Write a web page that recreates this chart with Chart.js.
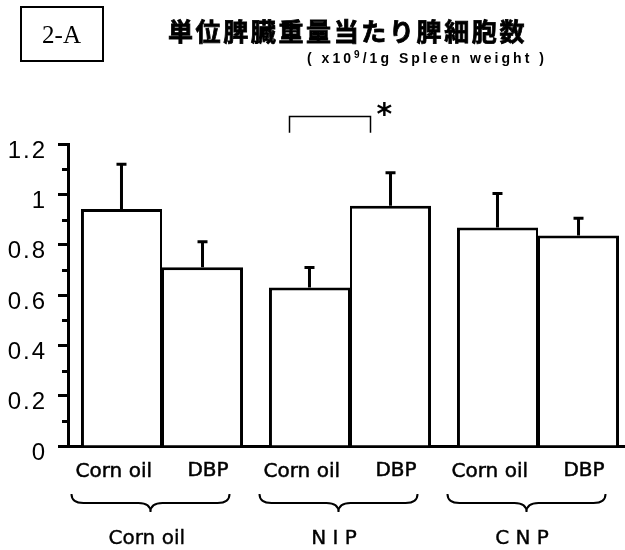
<!DOCTYPE html>
<html>
<head>
<meta charset="utf-8">
<script src="https://cdn.jsdelivr.net/npm/chart.js@4"></script>
<style>
  html, body { margin: 0; padding: 0; background: #fff; overflow: hidden; }
  #wrap { position: relative; width: 640px; height: 550px; }
</style>
</head>
<body>
<div id="wrap"><canvas id="chart" width="640" height="550"></canvas></div>
<script>
// Spleen cell count per unit spleen weight (x10^9 / 1 g spleen weight)
const groups = ['Corn oil', 'N I P', 'C N P'];
const treatments = ['Corn oil', 'DBP'];
const cornOilMeans = [0.942, 0.630, 0.868];
const cornOilSE = [0.178, 0.079, 0.135];
const dbpMeans = [0.710, 0.955, 0.836];
const dbpSE = [0.102, 0.131, 0.069];
const yTickLabels = [0, 0.2, 0.4, 0.6, 0.8, 1, 1.2];
const panelLabel = '2-A';
const titleText = '単位脾臓重量当たり脾細胞数';
const unitParts = ['( x10', '9', '/1g Spleen weight )'];
const significantGroup = 1;
const significanceMark = '*';

// draw a string centred (by its ink box) on cx, cy; optional outline thickens strokes
function textCentered(ctx, str, cx, cy, font, spacing, outline) {
  ctx.font = font;
  ctx.letterSpacing = spacing || '0px';
  ctx.textAlign = 'left';
  ctx.textBaseline = 'alphabetic';
  const m = ctx.measureText(str);
  const x = cx - (m.actualBoundingBoxRight - m.actualBoundingBoxLeft) / 2;
  const y = cy - (m.actualBoundingBoxDescent - m.actualBoundingBoxAscent) / 2;
  ctx.fillText(str, x, y);
  if (outline) {
    ctx.lineWidth = outline;
    ctx.strokeText(str, x, y);
  }
  ctx.letterSpacing = '0px';
}

// draw a run of text pieces so that they span `width` px
function textFitted(ctx, pieces, left, width, outline) {
  ctx.textAlign = 'left';
  ctx.textBaseline = 'alphabetic';
  let natural = 0, chars = 0;
  pieces.forEach(p => {
    ctx.font = p.font; ctx.letterSpacing = '0px';
    natural += ctx.measureText(p.text).width;
    chars += p.text.length;
  });
  const ls = Math.max(0, (width - natural) / chars);
  let x = left;
  pieces.forEach(p => {
    ctx.font = p.font; ctx.letterSpacing = ls + 'px';
    ctx.fillText(p.text, x, p.baseline);
    if (outline) { ctx.lineWidth = outline; ctx.strokeText(p.text, x, p.baseline); }
    x += ctx.measureText(p.text).width;
  });
  ctx.letterSpacing = '0px';
}

function drawBrace(ctx, x1, x2, y0) {
  const y1 = y0 + 9, y2 = y0 + 18, r = 12;
  const mid = (x1 + x2) / 2;
  ctx.beginPath();
  ctx.moveTo(x1, y0);
  ctx.quadraticCurveTo(x1, y1, x1 + r, y1);
  ctx.lineTo(mid - r, y1);
  ctx.quadraticCurveTo(mid, y1, mid, y2);
  ctx.quadraticCurveTo(mid, y1, mid + r, y1);
  ctx.lineTo(x2 - r, y1);
  ctx.quadraticCurveTo(x2, y1, x2, y0);
  ctx.stroke();
  return mid;
}

const isLabelled = v => yTickLabels.some(t => Math.abs(t - v) < 1e-6);

const figurePlugin = {
  id: 'figure',
  beforeDraw(chart) {
    // wide tracking for the y-axis numbers
    chart.ctx.letterSpacing = '2px';
  },
  afterDatasetsDraw(chart) {
    const ctx = chart.ctx;
    const y = chart.scales.y;
    ctx.save();
    ctx.strokeStyle = '#000';
    ctx.lineWidth = 3;
    chart.data.datasets.forEach((ds, di) => {
      const meta = chart.getDatasetMeta(di);
      meta.data.forEach((bar, i) => {
        const top = y.getPixelForValue(ds.data[i] + ds.se[i]);
        ctx.beginPath();
        ctx.moveTo(bar.x, bar.y);
        ctx.lineTo(bar.x, top);
        ctx.moveTo(bar.x - 5, top);
        ctx.lineTo(bar.x + 5, top);
        ctx.stroke();
      });
    });
    ctx.restore();
  },
  afterDraw(chart) {
    const ctx = chart.ctx;
    const y = chart.scales.y;
    const area = chart.chartArea;
    ctx.save();
    ctx.letterSpacing = '0px';
    ctx.fillStyle = '#000';
    ctx.strokeStyle = '#000';

    // minor y ticks (unlabelled steps)
    ctx.lineWidth = 3;
    y.ticks.forEach(t => {
      if (isLabelled(t.value)) return;
      const py = Math.round(y.getPixelForValue(t.value)) + 0.5;
      ctx.beginPath();
      ctx.moveTo(area.left - 6, py);
      ctx.lineTo(area.left, py);
      ctx.stroke();
    });

    // panel label box
    ctx.lineWidth = 2;
    ctx.strokeRect(21, 7, 82, 54);
    textCentered(ctx, panelLabel, 62, 34, '25px "Liberation Serif"');

    // title, stretched over its line
    const tFont = 'bold 25px "Noto Sans CJK JP"';
    ctx.font = tFont; ctx.letterSpacing = '0px';
    const tw = ctx.measureText(titleText).width;
    ctx.letterSpacing = ((359 - tw) / titleText.length) + 'px';
    const tm = ctx.measureText(titleText);
    const tBase = 31 - (tm.actualBoundingBoxDescent - tm.actualBoundingBoxAscent) / 2;
    ctx.textAlign = 'left';
    ctx.textBaseline = 'alphabetic';
    ctx.fillText(titleText, 168, tBase);
    ctx.lineWidth = 0.8;
    ctx.strokeText(titleText, 168, tBase);
    ctx.letterSpacing = '0px';

    // unit line with superscript exponent
    textFitted(ctx, [
      { text: unitParts[0], font: 'bold 14px "Liberation Sans"', baseline: 63 },
      { text: unitParts[1], font: 'bold 10px "Liberation Sans"', baseline: 58 },
      { text: unitParts[2], font: 'bold 14px "Liberation Sans"', baseline: 63 }
    ], 307, 240);

    // bar labels, braces and group labels
    const metaCorn = chart.getDatasetMeta(0).data;
    const metaDbp = chart.getDatasetMeta(1).data;
    const labelFont = '20px "DejaVu Sans"';
    groups.forEach((g, i) => {
      const cx = metaCorn[i].x, dx = metaDbp[i].x;
      textCentered(ctx, treatments[0], cx - 8, 469, labelFont, '0px', 0.5);
      textCentered(ctx, treatments[1], dx + 6, 469, labelFont, '0px', 0.5);
      ctx.lineWidth = 2;
      const mid = drawBrace(ctx, cx - 50, dx + 27, 494);
      textCentered(ctx, g, mid - 4, 536.5, labelFont, '0px', 0.4);
    });

    // significance bracket
    const b1 = metaCorn[significantGroup], b2 = metaDbp[significantGroup];
    const bx1 = Math.round(b1.x - b1.width / 4) + 0.5;
    const bx2 = Math.round(b2.x - b2.width / 4) + 0.5;
    const by = Math.round(y.getPixelForValue(1.31)) + 0.5;
    const legs = y.getPixelForValue(1.245);
    ctx.lineWidth = 1.5;
    ctx.beginPath();
    ctx.moveTo(bx1, legs);
    ctx.lineTo(bx1, by);
    ctx.lineTo(bx2, by);
    ctx.lineTo(bx2, legs);
    ctx.stroke();
    textCentered(ctx, significanceMark, bx2 + 14, by - 7, 'bold 30px "DejaVu Sans"');

    ctx.restore();
  }
};

new Chart(document.getElementById('chart'), {
  type: 'bar',
  data: {
    labels: groups,
    datasets: [
      {
        label: treatments[0],
        data: cornOilMeans,
        se: cornOilSE,
        backgroundColor: '#fff',
        borderColor: '#000',
        borderWidth: { left: 3, right: 2, top: 3, bottom: 0 },
        borderSkipped: false
      },
      {
        label: treatments[1],
        data: dbpMeans,
        se: dbpSE,
        backgroundColor: '#fff',
        borderColor: '#000',
        borderWidth: { left: 2, right: 3, top: 3, bottom: 0 },
        borderSkipped: false
      }
    ]
  },
  options: {
    responsive: false,
    devicePixelRatio: 1,
    animation: false,
    events: [],
    layout: { padding: { top: 144, right: 8, left: 0, bottom: 0 } },
    datasets: { bar: { categoryPercentage: 0.862, barPercentage: 1 } },
    plugins: { legend: { display: false }, tooltip: { enabled: false }, title: { display: false } },
    scales: {
      x: {
        grid: { display: true, drawOnChartArea: false, drawTicks: false },
        border: { display: true, color: '#000', width: 3 },
        ticks: { display: false },
        afterFit(s) { s.height = 104; }
      },
      y: {
        min: 0,
        max: 1.2,
        grid: {
          drawOnChartArea: false,
          drawTicks: true,
          tickLength: 10,
          tickWidth: 3,
          tickColor: c => (c.tick && isLabelled(c.tick.value)) ? '#000' : 'rgba(0,0,0,0)'
        },
        border: { display: true, color: '#000', width: 3 },
        ticks: {
          stepSize: 0.1,
          autoSkip: false,
          padding: 11,
          labelOffset: 7,
          color: '#000',
          font: { family: 'Liberation Sans', size: 24 },
          callback: v => {
            const t = yTickLabels.find(t => Math.abs(t - v) < 1e-6);
            return t === undefined ? '' : String(t);
          }
        },
        afterFit(s) { s.width = 68; }
      }
    }
  },
  plugins: [figurePlugin]
});
</script>
</body>
</html>
